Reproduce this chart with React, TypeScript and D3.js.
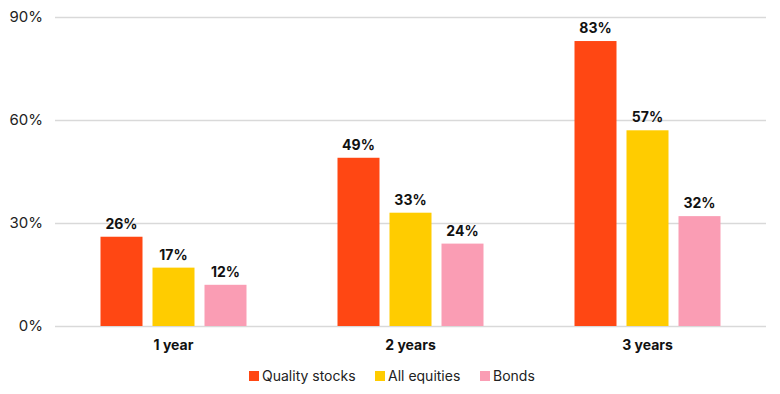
import { useEffect, useRef } from "react";
import * as d3 from "d3";

const categories = ["1 year", "2 years", "3 years"];
const seriesNames = ["Quality stocks", "All equities", "Bonds"];
const qualityStocks = [26, 49, 83];
const allEquities = [17, 33, 57];
const bonds = [12, 24, 32];
const yTicks = [0, 30, 60, 90];

const colors = ["#ff4713", "#ffcc00", "#fa9db4"];
const font = "Inter, 'Liberation Sans', sans-serif";

export default function App() {
  const width = 780;
  const height = 394;
  const marginTop = 17;
  const marginRight = 14;
  const marginBottom = 68;
  const marginLeft = 55;
  const ref = useRef<SVGSVGElement>(null);

  useEffect(() => {
    const svg = d3.select(ref.current);
    svg.selectAll("*").remove();

    const values = [qualityStocks, allEquities, bonds];

    const x0 = d3
      .scaleBand()
      .domain(categories)
      .range([marginLeft, width - marginRight]);

    // bars 42px wide, 10px apart
    const x1 = d3
      .scaleBand()
      .domain(seriesNames)
      .range([0, 146])
      .paddingInner(10 / 52)
      .paddingOuter(0);

    const y = d3
      .scaleLinear()
      .domain([0, 90])
      .range([height - marginBottom, marginTop]);

    // grid + y labels
    const yAxis = svg
      .append("g")
      .attr("transform", `translate(${width - marginRight}, 0)`)
      .call(
        d3
          .axisLeft(y)
          .tickValues(yTicks)
          .tickSize(width - marginLeft - marginRight)
          .tickFormat((d) => `${d}%`),
      );
    yAxis.select(".domain").remove();
    yAxis.selectAll(".tick line").attr("stroke", "#d9d9d9").attr("stroke-width", 1.3);
    yAxis
      .selectAll(".tick text")
      .attr("x", -(width - marginLeft - marginRight) - 12)
      .attr("fill", "#222")
      .style("font-family", font)
      .style("font-size", "15px");

    // category labels
    const xAxis = svg
      .append("g")
      .attr("transform", `translate(0, ${height - marginBottom})`)
      .call(d3.axisBottom(x0).tickSize(0).tickPadding(14));
    xAxis.select(".domain").remove();
    xAxis
      .selectAll(".tick text")
      .attr("fill", "#111")
      .style("font-family", font)
      .style("font-size", "14px")
      .style("font-weight", "700");

    const groupOffset = (x0.bandwidth() - x1.range()[1]) / 2;

    seriesNames.forEach((s, si) => {
      const g = svg.append("g");
      g.selectAll("rect")
        .data(values[si])
        .enter()
        .append("rect")
        .attr("x", (_d, i) => x0(categories[i])! + groupOffset + x1(s)!)
        .attr("y", (d) => y(d))
        .attr("width", x1.bandwidth())
        .attr("height", (d) => y(0) - y(d))
        .attr("fill", colors[si]);
      g.selectAll("text")
        .data(values[si])
        .enter()
        .append("text")
        .attr("x", (_d, i) => x0(categories[i])! + groupOffset + x1(s)! + x1.bandwidth() / 2)
        .attr("y", (d) => y(d) - 8)
        .attr("text-anchor", "middle")
        .attr("fill", "#111")
        .style("font-family", font)
        .style("font-size", "14px")
        .style("font-weight", "700")
        .text((d) => `${d}%`);
    });

    // legend
    const legendX = [249, 375, 480];
    const legend = svg.append("g").attr("transform", "translate(0, 376)");
    seriesNames.forEach((s, si) => {
      legend
        .append("rect")
        .attr("x", legendX[si])
        .attr("y", -5)
        .attr("width", 10)
        .attr("height", 10)
        .attr("fill", colors[si]);
      legend
        .append("text")
        .attr("x", legendX[si] + 13)
        .attr("y", 0)
        .attr("dy", "0.35em")
        .attr("fill", "#222")
        .style("font-family", font)
        .style("font-size", "14px")
        .text(s);
    });
  }, []);

  return (
    <svg
      ref={ref}
      width={width}
      height={height}
      style={{ position: "absolute", left: 0, top: 0, background: "#fff" }}
    />
  );
}
